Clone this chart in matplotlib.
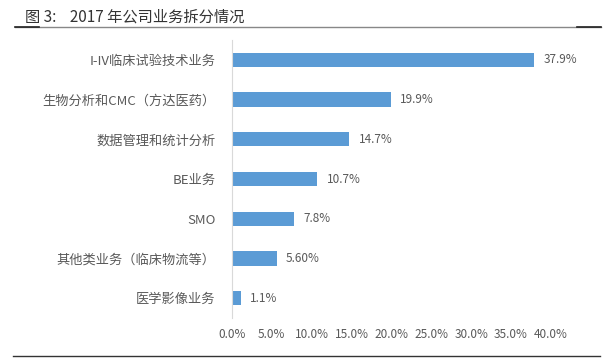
import matplotlib.pyplot as plt
from matplotlib.lines import Line2D

plt.rcParams['font.family'] = ['Noto Sans CJK SC', 'DejaVu Sans']

categories = ['I-IV临床试验技术业务', '生物分析和CMC（方达医药）', '数据管理和统计分析',
              'BE业务', 'SMO', '其他类业务（临床物流等）', '医学影像业务']
shares = [37.9, 19.9, 14.7, 10.7, 7.8, 5.6, 1.1]
value_labels = ['37.9%', '19.9%', '14.7%', '10.7%', '7.8%', '5.60%', '1.1%']
x_ticks = [0, 5, 10, 15, 20, 25, 30, 35, 40]

text_color = '#595959'
bar_color = '#5B9BD5'

fig = plt.figure(figsize=(6.04, 3.61), dpi=100)
ax = fig.add_axes([0.384, 0.119, 0.528, 0.770])

pos = list(range(len(categories)))
ax.barh(pos, shares, height=0.36, color=bar_color)
for y, v, lab in zip(pos, shares, value_labels):
    ax.text(v + 1.2, y, lab, va='center', ha='left', fontsize=8.5, color=text_color)

ax.set_xlim(0, 40)
ax.set_ylim(len(categories) - 0.5, -0.5)
ax.set_yticks(pos)
ax.set_yticklabels(categories, fontsize=9.5, color=text_color)
ax.set_xticks(x_ticks)
ax.set_xticklabels([f'{t:.1f}%' for t in x_ticks], fontsize=8.5, color=text_color)
ax.tick_params(axis='both', length=0)
ax.tick_params(axis='y', pad=12)
ax.tick_params(axis='x', pad=7)

for side in ['top', 'right', 'bottom']:
    ax.spines[side].set_visible(False)
ax.spines['left'].set_color('#D9D9D9')

fig.text(0.041, 0.953, '图 3:    2017 年公司业务拆分情况', fontsize=11, color='#333333',
         va='center', ha='left')
fig.add_artist(Line2D([0.025, 0.995], [0.925, 0.925], color='#888888', lw=1))
fig.add_artist(Line2D([0.025, 0.065], [0.925, 0.925], color='#222222', lw=1.2))
fig.add_artist(Line2D([0.955, 0.995], [0.925, 0.925], color='#222222', lw=1.2))
fig.add_artist(Line2D([0.022, 0.993], [0.014, 0.014], color='#333333', lw=1))

fig.savefig('out.png', dpi=100)
